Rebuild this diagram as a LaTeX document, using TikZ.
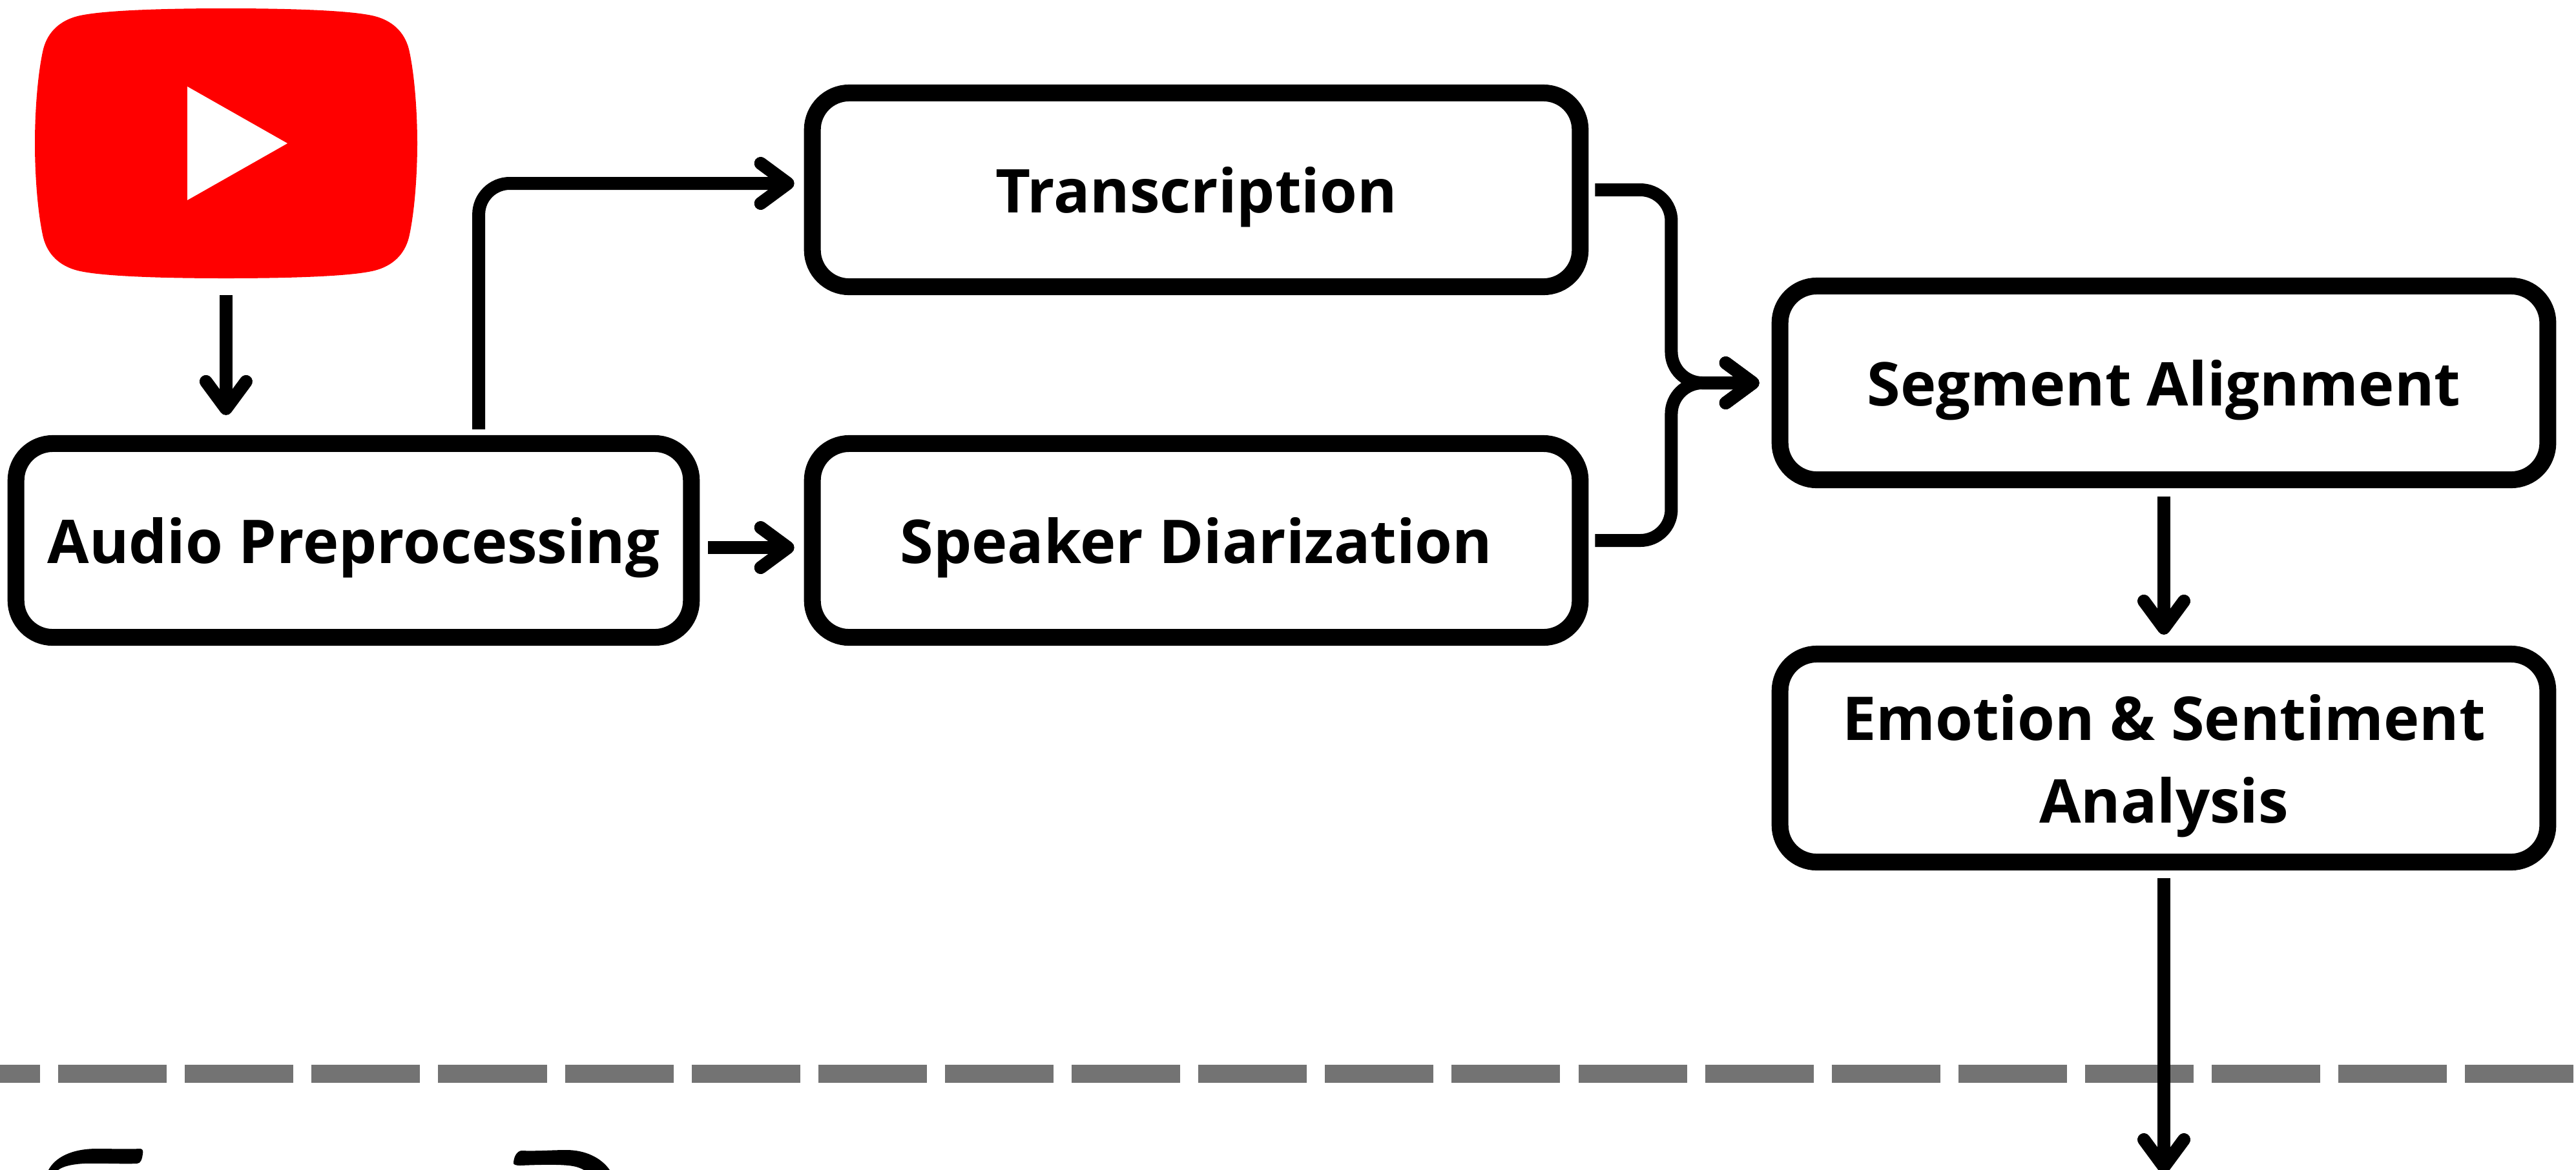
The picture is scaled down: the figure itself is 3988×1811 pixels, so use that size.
\documentclass[tikz,border=0pt]{standalone}
\usepackage{fontspec}
\setmainfont{Open Sans}
\usetikzlibrary{arrows.meta,calc}
\definecolor{ytred}{HTML}{FF0000}
\definecolor{sepgray}{HTML}{737373}
\tikzset{
  stepbox/.style={draw=black,line width=0.26cm,rounded corners=0.57cm,fill=white,outer sep=0pt,inner sep=0pt,
    align=center,text height=0.70cm,text depth=0pt,
    font=\fontsize{26.6pt}{36.4pt}\selectfont\bfseries},
  conn/.style={draw=black,line width=0.2cm,rounded corners=0.48cm,
    -{Straight Barb[length=0.42cm,width=0.62cm,line width=0.2cm,round]}},
  sepline/.style={draw=sepgray,line width=0.28cm,dash pattern=on 1.68cm off 0.28cm},
  hand/.style={fill=black,draw=none}
}
\begin{document}
\begin{tikzpicture}[x=0.01cm,y=-0.01cm]
\useasboundingbox (0,0) rectangle (3988,1811);
\clip (0,0) rectangle (3988,1811);
% separator
\coordinate (sepL) at (-106,1663);
\coordinate (sepR) at (3990,1663);
\draw[sepline] (sepL) -- (sepR);
% YouTube icon
\fill[ytred] (350,13) .. controls (270,13) and (160,15) .. (120,25)
  .. controls (93,32) and (74,49) .. (67,76)
  .. controls (58,115) and (54,175) .. (54,222)
  .. controls (54,269) and (58,329) .. (67,368)
  .. controls (74,395) and (93,412) .. (120,419)
  .. controls (160,429) and (270,431) .. (350,431)
  .. controls (430,431) and (540,429) .. (580,419)
  .. controls (607,412) and (626,395) .. (633,368)
  .. controls (642,329) and (646,269) .. (646,222)
  .. controls (646,175) and (642,115) .. (633,76)
  .. controls (626,49) and (607,32) .. (580,25)
  .. controls (540,15) and (430,13) .. (350,13) -- cycle;
\fill[white] (290,134) -- (445,222) -- (290,310) -- cycle;
\node[minimum width=5.92cm,minimum height=4.18cm,inner sep=0pt,outer sep=0pt] (yt) at (350,222) {};
% boxes
\node[stepbox,minimum width=10.45cm,minimum height=3cm] (au) at (547.5,837) {Audio Preprocessing};
\node[stepbox,minimum width=11.88cm,minimum height=3cm] (tr) at (1852,294) {Transcription};
\node[stepbox,minimum width=11.88cm,minimum height=3cm] (sp) at (1852,837) {Speaker Diarization};
\node[stepbox,minimum width=11.88cm,minimum height=3cm] (sg) at (3350,593) {Segment Alignment};
\node[stepbox,text height=2.0cm,minimum width=11.88cm,minimum height=3.22cm] (em) at (3350,1174) {Emotion \& Sentiment\\Analysis};
% connectors
\coordinate (out) at (3350,1817);
\draw[conn] ([shift={(-1.975cm,-0.26cm)}]yt.south -| au.north) -- ([shift={(-1.975cm,0.44cm)}]au.north);
\draw[conn] ([shift={(1.935cm,0.22cm)}]au.north) |- ([shift={(-0.28cm,0.10cm)}]tr.west);
\draw[conn] ([shift={(0.26cm,-0.11cm)}]au.east) -- ([shift={(-0.28cm,-0.11cm)}]sp.west);
\draw[conn] ([xshift=0.23cm]tr.east) -- ++(1.18cm,0) |- ([xshift=-0.32cm]sg.west);
\draw[conn] ([xshift=0.23cm]sp.east) -- ++(1.18cm,0) |- ([xshift=-0.32cm]sg.west);
\draw[conn] ([yshift=-0.26cm]sg.south) -- ([yshift=0.30cm]em.north);
\draw[conn] ([yshift=-0.25cm]em.south) -- (out);
% cropped hand-drawn strokes at the lower edge
\fill[hand] (75,1812) .. controls (85,1793) and (110,1779) .. (150,1779)
  .. controls (175,1779) and (195,1780) .. (217,1779)
  .. controls (221,1779) and (222,1783) .. (221,1787)
  .. controls (220,1795) and (218,1802) .. (212,1802)
  .. controls (190,1803) and (150,1801) .. (130,1802)
  .. controls (112,1803) and (98,1806) .. (90,1812) -- cycle;
\fill[hand] (944,1812) .. controls (930,1792) and (905,1781) .. (877,1781)
  .. controls (855,1781) and (830,1783) .. (807,1782)
  .. controls (800,1783) and (795,1792) .. (795,1802)
  .. controls (796,1804) and (800,1805) .. (805,1805)
  .. controls (830,1804) and (860,1803) .. (880,1805)
  .. controls (890,1806) and (897,1808) .. (904,1812) -- cycle;
\end{tikzpicture}
\end{document}
